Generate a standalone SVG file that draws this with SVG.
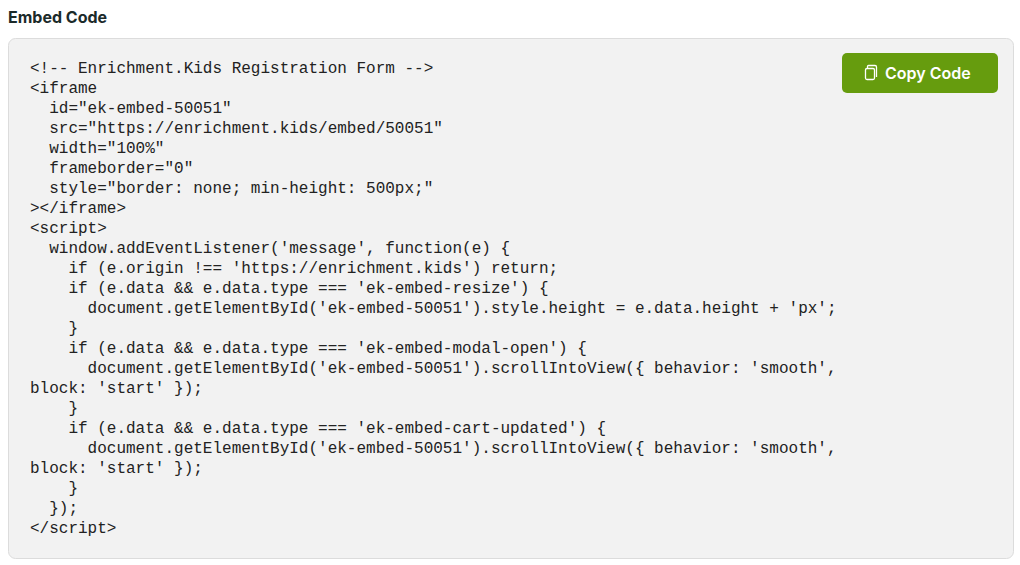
<svg xmlns="http://www.w3.org/2000/svg" width="1020" height="565" viewBox="0 0 1020 565">
<style>
.c{font-family:"Liberation Mono",monospace;font-size:16px;fill:#222;white-space:pre}
</style>
<rect width="1020" height="565" fill="#fff"/>
<text x="8" y="23" font-family="Inter,'Liberation Sans',sans-serif" font-weight="700" font-size="16" fill="#1b2a2a">Embed Code</text>
<g id="codebox">
<rect x="8.5" y="38.5" width="1005" height="520" rx="7" fill="#f2f2f2" stroke="#dcdcdc"/>
<text class="c" xml:space="preserve">
<tspan x="30" y="73">&lt;!-- Enrichment.Kids Registration Form --&gt;</tspan>
<tspan x="30" y="93">&lt;iframe</tspan>
<tspan x="30" y="113">  id="ek-embed-50051"</tspan>
<tspan x="30" y="133">  src="https://enrichment.kids/embed/50051"</tspan>
<tspan x="30" y="153">  width="100%"</tspan>
<tspan x="30" y="173">  frameborder="0"</tspan>
<tspan x="30" y="193">  style="border: none; min-height: 500px;"</tspan>
<tspan x="30" y="213">&gt;&lt;/iframe&gt;</tspan>
<tspan x="30" y="233">&lt;script&gt;</tspan>
<tspan x="30" y="253">  window.addEventListener('message', function(e) {</tspan>
<tspan x="30" y="273">    if (e.origin !== 'https://enrichment.kids') return;</tspan>
<tspan x="30" y="293">    if (e.data &amp;&amp; e.data.type === 'ek-embed-resize') {</tspan>
<tspan x="30" y="313">      document.getElementById('ek-embed-50051').style.height = e.data.height + 'px';</tspan>
<tspan x="30" y="333">    }</tspan>
<tspan x="30" y="353">    if (e.data &amp;&amp; e.data.type === 'ek-embed-modal-open') {</tspan>
<tspan x="30" y="373">      document.getElementById('ek-embed-50051').scrollIntoView({ behavior: 'smooth',</tspan>
<tspan x="30" y="393">block: 'start' });</tspan>
<tspan x="30" y="413">    }</tspan>
<tspan x="30" y="433">    if (e.data &amp;&amp; e.data.type === 'ek-embed-cart-updated') {</tspan>
<tspan x="30" y="453">      document.getElementById('ek-embed-50051').scrollIntoView({ behavior: 'smooth',</tspan>
<tspan x="30" y="473">block: 'start' });</tspan>
<tspan x="30" y="493">    }</tspan>
<tspan x="30" y="513">  });</tspan>
<tspan x="30" y="533">&lt;/script&gt;</tspan>
</text>
</g>
<g id="copy-button">
<rect x="842" y="53" width="156" height="40" rx="5" fill="#669c0e"/>
<rect x="865.5" y="68.5" width="9" height="11" rx="1.5" fill="none" stroke="#fff" stroke-width="1.3"/>
<path d="M867.5 68.5 V66.5 Q867.5 65.5 868.5 65.5 H875 Q876.5 65.5 876.5 67 V77" fill="none" stroke="#fff" stroke-width="1.3"/>
<text x="885" y="79" font-family="Inter,'Liberation Sans',sans-serif" font-weight="600" font-size="16" fill="#fff">Copy Code</text>
</g>
</svg>
